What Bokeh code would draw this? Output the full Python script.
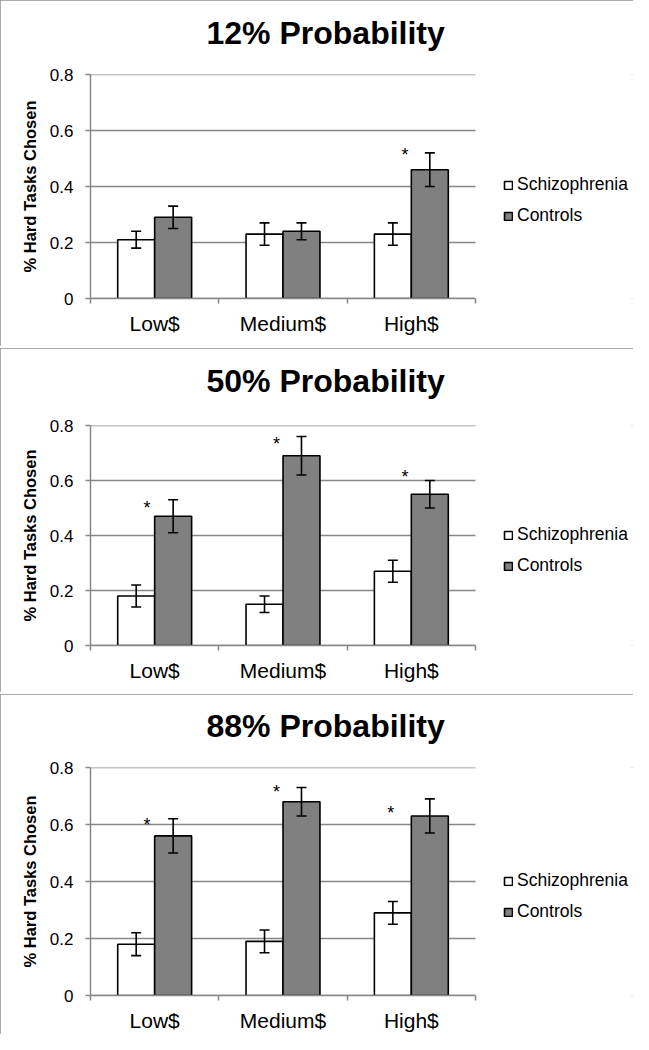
from bokeh.plotting import figure
from bokeh.models import (Range1d, FixedTicker, Whisker, TeeHead, ColumnDataSource,
                          Legend, LegendItem, Title)
from bokeh.layouts import column
from bokeh.embed import file_html
from bokeh.resources import INLINE
from bokeh.core.properties import value

# ---------------- data ----------------
categories = ["Low$", "Medium$", "High$"]
panel_titles = ["12% Probability", "50% Probability", "88% Probability"]
series_names = ["Schizophrenia", "Controls"]
y_ticks = [0, 0.2, 0.4, 0.6, 0.8]
y_tick_labels = ["0", "0.2", "0.4", "0.6", "0.8"]
y_axis_label = "% Hard Tasks Chosen"

schizo_12 = [0.21, 0.23, 0.23]
schizo_12_err = [0.03, 0.04, 0.04]
controls_12 = [0.29, 0.24, 0.46]
controls_12_err = [0.04, 0.03, 0.06]

schizo_50 = [0.18, 0.15, 0.27]
schizo_50_err = [0.04, 0.03, 0.04]
controls_50 = [0.47, 0.69, 0.55]
controls_50_err = [0.06, 0.07, 0.05]

schizo_88 = [0.18, 0.19, 0.29]
schizo_88_err = [0.04, 0.04, 0.04]
controls_88 = [0.56, 0.68, 0.63]
controls_88_err = [0.06, 0.05, 0.06]

# significance asterisks (category, height, offset within category)
star_12_cats = ["High$"]
star_12_y = [0.525]
star_12_dx = [-0.05]
star_50_cats = ["Low$", "Medium$", "High$"]
star_50_y = [0.51, 0.745, 0.625]
star_50_dx = [-0.06, -0.05, -0.05]
star_88_cats = ["Low$", "Medium$", "High$"]
star_88_y = [0.61, 0.725, 0.65]
star_88_dx = [-0.06, -0.05, -0.16]

# ---------------- layout / style ----------------
FONT = "Liberation Sans"
GRID = "#878787"
W = 633
FRAME_LEFT = 90
DATA_W = 385                 # pixels spanned by the three categories
FRAME_W = W - FRAME_LEFT     # frame extends right to hold the legend
BAR_W = 0.288
heights = [346, 344, 340]
tops = [74, 77, 73]
frame_h = [224, 220, 228]
legend_y = [72, 69, 73]
title_gap = ["19.5px", "22px", "19.5px"]   # spacer lifting each title


def make_panel(i, title, s_vals, s_err, c_vals, c_err, st_cats, st_y, st_dx):
    h = heights[i]
    n = len(categories)
    p = figure(width=W, height=h,
               x_range=Range1d(0, n * FRAME_W / DATA_W),
               y_range=Range1d(y_ticks[0], y_ticks[-1]),
               output_backend="svg", toolbar_location=None,
               min_border_left=FRAME_LEFT,
               min_border_right=0,
               min_border_top=tops[i],
               min_border_bottom=h - tops[i] - frame_h[i])
    p.background_fill_color = "white"
    p.border_fill_color = "white"
    p.outline_line_color = None
    p.styles = {"outline": "2px solid #8f8f8f", "outline-offset": "-2px"}

    # spacer (closest to frame) then the real title above it
    p.add_layout(Title(text=" ", text_font=FONT, text_font_size=title_gap[i],
                       standoff=0), "above")
    p.add_layout(Title(text=title, text_font=FONT, text_font_size="32px",
                       text_font_style="bold", text_color="black",
                       align="left", offset=116, standoff=0), "above")

    # horizontal gridlines limited to the category area
    p.segment(x0=[0] * len(y_ticks), x1=[n] * len(y_ticks), y0=y_ticks, y1=y_ticks,
              line_color=GRID, line_width=1.5)

    centers = [k + 0.5 for k in range(n)]
    xs = [c - BAR_W / 2 for c in centers]
    xc = [c + BAR_W / 2 for c in centers]

    src_s = ColumnDataSource(dict(x=xs, top=s_vals,
                                  u=[v + e for v, e in zip(s_vals, s_err)],
                                  l=[v - e for v, e in zip(s_vals, s_err)]))
    src_c = ColumnDataSource(dict(x=xc, top=c_vals,
                                  u=[v + e for v, e in zip(c_vals, c_err)],
                                  l=[v - e for v, e in zip(c_vals, c_err)]))

    rs = p.vbar(x="x", top="top", bottom=0, width=BAR_W, source=src_s,
                fill_color="white", line_color="black", line_width=1.6)
    rc = p.vbar(x="x", top="top", bottom=0, width=BAR_W, source=src_c,
                fill_color="#808080", line_color="black", line_width=1.6)

    for src in (src_s, src_c):
        w = Whisker(source=src, base="x", upper="u", lower="l",
                    line_color="black", line_width=1.6, level="overlay",
                    upper_head=TeeHead(size=10, line_color="black", line_width=1.6),
                    lower_head=TeeHead(size=10, line_color="black", line_width=1.6))
        p.add_layout(w)

    sx = [categories.index(c) + 0.5 + d for c, d in zip(st_cats, st_dx)]
    p.text(x=sx, y=st_y, text=["*"] * len(sx), text_font=value(FONT),
           text_font_size="18px", text_align="center",
           text_baseline="alphabetic", y_offset=3, text_color="black")

    # axes
    xa = p.xaxis[0]
    xa.bounds = (0, n)
    xa.ticker = FixedTicker(ticks=centers, minor_ticks=list(range(n + 1)))
    xa.major_label_overrides = {c: lbl for c, lbl in zip(centers, categories)}
    xa.major_tick_line_color = None
    xa.major_tick_out = 0
    xa.major_tick_in = 0
    xa.minor_tick_line_color = GRID
    xa.minor_tick_line_width = 1.5
    xa.minor_tick_out = 5
    xa.minor_tick_in = 0
    xa.axis_line_color = GRID
    xa.axis_line_width = 1.5
    xa.major_label_text_font = FONT
    xa.major_label_text_font_size = "21px"
    xa.major_label_text_color = "black"
    xa.major_label_standoff = 8

    ya = p.yaxis[0]
    ya.ticker = FixedTicker(ticks=y_ticks, minor_ticks=[])
    ya.major_label_overrides = {t: lbl for t, lbl in zip(y_ticks, y_tick_labels)}
    ya.axis_line_color = GRID
    ya.axis_line_width = 1.5
    ya.major_tick_line_color = GRID
    ya.major_tick_line_width = 1.5
    ya.major_tick_out = 5
    ya.major_tick_in = 0
    ya.minor_tick_line_color = None
    ya.major_label_text_font = FONT
    ya.major_label_text_font_size = "17px"
    ya.major_label_text_color = "black"
    ya.major_label_standoff = 12
    ya.axis_label = y_axis_label
    ya.axis_label_text_font = FONT
    ya.axis_label_text_font_size = "16.5px"
    ya.axis_label_text_font_style = "bold"
    ya.axis_label_text_color = "black"
    ya.axis_label_standoff = 8

    p.xgrid.grid_line_color = None
    p.ygrid.grid_line_color = None

    legend = Legend(items=[LegendItem(label=series_names[0], renderers=[rs]),
                           LegendItem(label=series_names[1], renderers=[rc])],
                    location=(DATA_W + 28, legend_y[i]))
    legend.glyph_width = 10
    legend.glyph_height = 10
    legend.label_text_font = FONT
    legend.label_text_font_size = "17.5px"
    legend.label_text_color = "black"
    legend.label_standoff = 4
    legend.label_height = 20
    legend.spacing = 10
    legend.padding = 0
    legend.margin = 0
    legend.border_line_color = None
    legend.background_fill_alpha = 0
    p.add_layout(legend)
    return p


p1 = make_panel(0, panel_titles[0], schizo_12, schizo_12_err, controls_12, controls_12_err,
                star_12_cats, star_12_y, star_12_dx)
p2 = make_panel(1, panel_titles[1], schizo_50, schizo_50_err, controls_50, controls_50_err,
                star_50_cats, star_50_y, star_50_dx)
p3 = make_panel(2, panel_titles[2], schizo_88, schizo_88_err, controls_88, controls_88_err,
                star_88_cats, star_88_y, star_88_dx)

layout = column(p1, p2, p3, spacing=2)
open("out.html", "w").write(file_html(layout, INLINE))
